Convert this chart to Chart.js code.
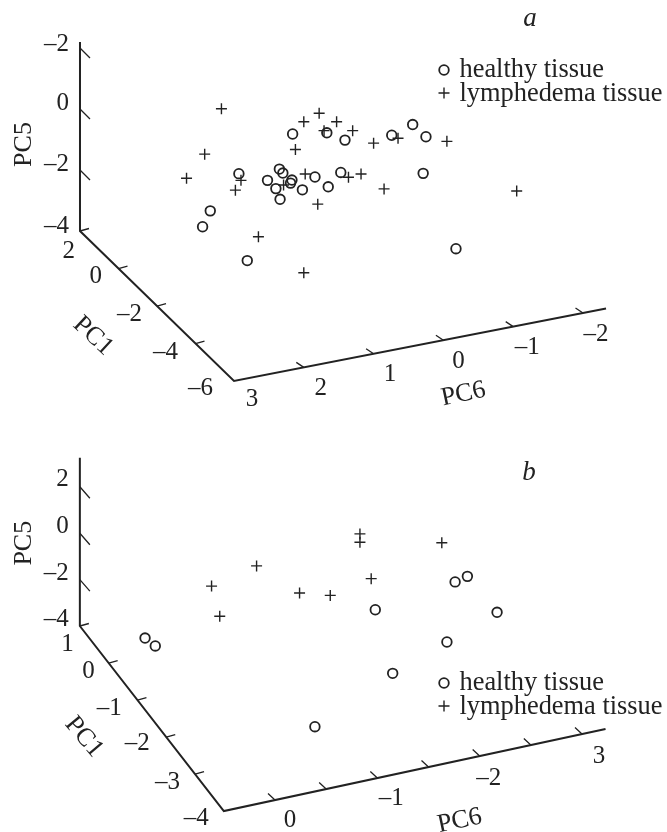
<!DOCTYPE html>
<html lang="en">
<head>
    <meta charset="UTF-8">
    <title>PC1, PC5, PC6 score plots</title>
    <script src="https://cdn.jsdelivr.net/npm/chart.js"></script>
    <style>
        html, body { margin: 0; padding: 0; background: #fff; }
        canvas { display: block; }
    </style>
</head>
<body>
    <canvas id="chart-a" width="667" height="416"></canvas>
    <canvas id="chart-b" width="667" height="416"></canvas>

    <script>
        // Panel a: each point read across to the PC5 axis and down to the PC6 axis
        var healthyPc6A = [2.16, 1.67, 1.41, 0.74, 0.44, 0.25, 0.29, 2.93, 2.52, 2.35, 2.30, 2.17, 2.19, 2.40, 2.34, 2.02, 1.84, 1.65, 1.47, 3.34, 3.45, 2.81, -0.18];
        var healthyPc5A = [-0.82, -0.78, -1.02, -0.86, -0.51, -0.91, -2.11, -2.12, -2.34, -1.97, -2.10, -2.33, -2.43, -2.61, -2.96, -2.65, -2.23, -2.55, -2.08, -3.34, -3.86, -4.97, -4.58];
        var lymphPc6A = [3.18, 3.42, 3.68, 2.90, 2.98, 2.65, 2.00, 2.00, 1.78, 1.53, 1.71, 1.30, 2.12, 1.00, 0.65, -0.05, 1.98, 2.29, 1.36, 1.18, 0.85, 1.80, -1.05];
        var lymphPc5A = [0.01, -1.48, -2.27, -2.34, -2.66, -4.19, -5.37, -0.42, -0.14, -0.42, -0.71, -0.71, -1.33, -1.12, -0.96, -1.06, -2.13, -2.49, -2.24, -2.13, -2.62, -3.12, -2.69];

        // Panel b
        var healthyPc6B = [-0.98, -1.76, -1.88, -2.17, -1.68, -1.15, -0.39, 1.27, 1.17];
        var healthyPc5B = [-3.30, -2.10, -1.86, -3.41, -4.69, -6.04, -8.34, -4.52, -4.86];
        var lymphPc6B = [-0.83, -0.83, -1.63, 0.18, 0.62, -0.24, -0.54, -0.94, 0.54];
        var lymphPc5B = [-0.03, -0.39, -0.41, -1.41, -2.28, -2.58, -2.68, -1.96, -3.58];

        // Axis ticks and what is printed at them (the printed text keeps the source's "–2" and "3")
        var pc5TicksA = [2, 0, -2, -4];
        var pc5LabelsA = ['–2', '0', '–2', '–4'];
        var pc1TicksA = [2, 0, -2, -4, -6];
        var pc1LabelsA = ['2', '0', '–2', '–4', '–6'];
        var pc6TicksA = [3, 2, 1, 0, -1, -2];
        var pc6LabelsA = ['3', '2', '1', '0', '–1', '–2'];

        var pc5TicksB = [2, 0, -2, -4];
        var pc5LabelsB = ['2', '0', '–2', '–4'];
        var pc1TicksB = [1, 0, -1, -2, -3, -4];
        var pc1LabelsB = ['1', '0', '–1', '–2', '–3', '–4'];
        var pc6TicksB = [0, -1, -2, -3];
        var pc6LabelsB = ['0', '–1', '–2', '3'];
        var pc6MinorB = [0, -0.5, -1, -1.5, -2, -2.5, -3];

        var INK = '#222';
        var SERIF = '"Liberation Serif", serif';
        var TEXT_DROP = 1.5; // textBaseline middle sits a bit high for digits

        // Layout of each panel: scale ranges, oblique projection of the 3D box, label nudges in px
        var panelA = {
            letter: 'a', letterPos: [530, 19],
            legendPos: [444, 70],
            xRange: [-3.2034, 6.3524], yRange: [-10.0656, 3.5738],
            xUnit: 69.8, yUnit: 30.5,
            corner: { pc6: 3, pc1: -6, pc5: -4 }, pc1Back: 2,
            pc1ShiftX: 0.2758, pc1ShiftY: 0.6148, pc6Tilt: -0.446,
            pc5Top: 2.2, pc6End: -2.33,
            pc5Ticks: pc5TicksA, pc5Labels: pc5LabelsA, pc5Marks: [2, 0, -2], pc5Vec: [10, 10],
            pc1Ticks: pc1TicksA, pc1Labels: pc1LabelsA, pc1Marks: [2, 0, -2, -4], pc1Vec: [9, -2.5],
            pc6Ticks: pc6TicksA, pc6Labels: pc6LabelsA, pc6Marks: [2, 1, 0, -1, -2], pc6Vec: [-7.5, -5],
            pc5Nudge: [[-11, -5], [-11, -7], [-11, -7], [-11, -6]],
            pc1Nudge: [[-5, 19], [-16.5, 6.5], [-15, 7], [-17.5, 7.5], [-21, 6]],
            pc6Nudge: [[18, 17], [17, 20], [16.5, 19], [15, 20], [14, 19], [13, 20]],
            pc5Title: { at: -1, nudge: [-56, 5] },
            pc1Title: { at: -2, nudge: [-64, 30], angle: 43 },
            pc6Title: { at: 0, nudge: [20, 54], angle: -12 },
            healthy: [healthyPc6A, healthyPc5A], lymph: [lymphPc6A, lymphPc5A]
        };

        var panelB = {
            letter: 'b', letterPos: [529, 57],
            legendPos: [444, 267],
            xRange: [-3.8307, 2.6874], yRange: [-12.8793, 5.0517],
            xUnit: 102.33, yUnit: 23.2,
            corner: { pc6: 0.5, pc1: -4, pc5: -4 }, pc1Back: 1,
            pc1ShiftX: 0.2814, pc1ShiftY: 1.595, pc6Tilt: -0.948,
            pc5Top: 3.25, pc6End: -3.23,
            pc5Ticks: pc5TicksB, pc5Labels: pc5LabelsB, pc5Marks: [2, 0, -2], pc5Vec: [10, 11.5],
            pc1Ticks: pc1TicksB, pc1Labels: pc1LabelsB, pc1Marks: [1, 0, -1, -2, -3], pc1Vec: [9, -2.5],
            pc6Ticks: pc6TicksB, pc6Labels: pc6LabelsB, pc6Marks: pc6MinorB, pc6Vec: [-7, -6.5],
            pc5Nudge: [[-11, -9], [-11, -8], [-11, -8], [-11, -8]],
            pc1Nudge: [[-6, 17], [-14, 7], [-15.6, 7], [-16.4, 5], [-15, 7], [-15, 6]],
            pc6Nudge: [[15, 19], [14, 19], [9, 21], [17, 21]],
            pc5Title: { at: 0, nudge: [-56, 10] },
            pc1Title: { at: -1, nudge: [-53.6, 37], angle: 50 },
            pc6Title: { at: -2, nudge: [-20, 65], angle: -12 },
            healthy: [healthyPc6B, healthyPc5B], lymph: [lymphPc6B, lymphPc5B]
        };

        // 3D box coordinates -> plane the two linear scales run on
        function project(p, pc6, pc1, pc5) {
            return {
                x: pc6 + (pc1 - p.corner.pc1) * p.pc1ShiftX,
                y: pc5 + (pc1 - p.pc1Back) * p.pc1ShiftY + (pc6 - p.corner.pc6) * p.pc6Tilt
            };
        }

        function zip(xs, ys) {
            return xs.map(function(x, i) { return { x: x, y: ys[i] }; });
        }

        // Short tick strokes, split by NaN gaps
        function tickSegments(p, anchors, vec) {
            var out = [];
            anchors.forEach(function(a) {
                out.push(a);
                out.push({ x: a.x - vec[0] / p.xUnit, y: a.y - vec[1] / p.yUnit });
                out.push({ x: NaN, y: NaN });
            });
            return out;
        }

        function pc5Point(p, v) { return project(p, p.corner.pc6, p.pc1Back, v); }
        function pc1Point(p, v) { return project(p, p.corner.pc6, v, p.corner.pc5); }
        function pc6Point(p, v) { return project(p, v, p.corner.pc1, p.corner.pc5); }

        // Draws tick labels, axis titles, panel letter and the legend
        var labelsPlugin = {
            id: 'panelLabels',
            afterDatasetsDraw: function(chart) {
                var p = chart.options.plugins.panelLabels.panel;
                var ctx = chart.ctx;
                var sx = chart.scales.x, sy = chart.scales.y;
                function px(pt) { return [sx.getPixelForValue(pt.x), sy.getPixelForValue(pt.y)]; }

                ctx.save();
                ctx.fillStyle = INK;
                ctx.strokeStyle = INK;
                ctx.textBaseline = 'middle';
                ctx.font = '25px ' + SERIF;

                ctx.textAlign = 'right';
                p.pc5Ticks.forEach(function(v, i) {
                    var a = px(pc5Point(p, v));
                    ctx.fillText(p.pc5Labels[i], a[0] + p.pc5Nudge[i][0], a[1] + p.pc5Nudge[i][1] + TEXT_DROP);
                });
                p.pc1Ticks.forEach(function(v, i) {
                    var a = px(pc1Point(p, v));
                    ctx.fillText(p.pc1Labels[i], a[0] + p.pc1Nudge[i][0], a[1] + p.pc1Nudge[i][1] + TEXT_DROP);
                });
                ctx.textAlign = 'center';
                p.pc6Ticks.forEach(function(v, i) {
                    var a = px(pc6Point(p, v));
                    ctx.fillText(p.pc6Labels[i], a[0] + p.pc6Nudge[i][0], a[1] + p.pc6Nudge[i][1] + TEXT_DROP);
                });

                function title(text, anchor, nudge, angle) {
                    ctx.save();
                    ctx.translate(anchor[0] + nudge[0], anchor[1] + nudge[1]);
                    ctx.rotate(angle * Math.PI / 180);
                    ctx.font = '26px ' + SERIF;
                    ctx.fillText(text, 0, 0);
                    ctx.restore();
                }
                title('PC5', px(pc5Point(p, p.pc5Title.at)), p.pc5Title.nudge, -90);
                title('PC1', px(pc1Point(p, p.pc1Title.at)), p.pc1Title.nudge, p.pc1Title.angle);
                title('PC6', px(pc6Point(p, p.pc6Title.at)), p.pc6Title.nudge, p.pc6Title.angle);

                ctx.font = 'italic 27px ' + SERIF;
                ctx.fillText(p.letter, p.letterPos[0], p.letterPos[1]);

                // Legend
                var lx = p.legendPos[0], ly = p.legendPos[1];
                ctx.lineWidth = 1.8;
                ctx.beginPath();
                ctx.arc(lx, ly, 4.8, 0, Math.PI * 2);
                ctx.stroke();
                ctx.lineWidth = 1.4;
                ctx.beginPath();
                ctx.moveTo(lx - 5.5, ly + 23);
                ctx.lineTo(lx + 5.5, ly + 23);
                ctx.moveTo(lx, ly + 17.5);
                ctx.lineTo(lx, ly + 28.5);
                ctx.stroke();
                ctx.font = '26.4px ' + SERIF;
                ctx.textAlign = 'left';
                ctx.textBaseline = 'alphabetic';
                ctx.fillText('healthy tissue', lx + 15.5, ly + 7);
                ctx.fillText('lymphedema tissue', lx + 15.5, ly + 31);
                ctx.restore();
            }
        };

        function drawPanel(canvasId, p) {
            var ctx = document.getElementById(canvasId).getContext('2d');
            var axisPath = [
                pc5Point(p, p.pc5Top),
                pc5Point(p, p.corner.pc5),
                pc1Point(p, p.corner.pc1),
                pc6Point(p, p.pc6End)
            ];
            var ticks = tickSegments(p, p.pc5Marks.map(function(v) { return pc5Point(p, v); }), p.pc5Vec)
                .concat(tickSegments(p, p.pc1Marks.map(function(v) { return pc1Point(p, v); }), p.pc1Vec))
                .concat(tickSegments(p, p.pc6Marks.map(function(v) { return pc6Point(p, v); }), p.pc6Vec));

            return new Chart(ctx, {
                type: 'scatter',
                data: {
                    datasets: [
                        { label: 'axes', data: axisPath, showLine: true, borderColor: INK, borderWidth: 2, pointRadius: 0, borderJoinStyle: 'miter' },
                        { label: 'ticks', data: ticks, showLine: true, spanGaps: false, borderColor: INK, borderWidth: 1.3, pointRadius: 0 },
                        { label: 'healthy tissue', data: zip(p.healthy[0], p.healthy[1]), pointStyle: 'circle', pointRadius: 4.8, pointBorderWidth: 1.8, pointBorderColor: INK, pointBackgroundColor: 'transparent' },
                        { label: 'lymphedema tissue', data: zip(p.lymph[0], p.lymph[1]), pointStyle: 'cross', pointRadius: 5.5, pointBorderWidth: 1.4, pointBorderColor: INK }
                    ]
                },
                options: {
                    responsive: false,
                    animation: false,
                    events: [],
                    // autoPadding would pull the plot in for the point radius and shift the axes
                    layout: { padding: 0, autoPadding: false },
                    scales: {
                        x: { type: 'linear', reverse: true, display: false, min: p.xRange[0], max: p.xRange[1] },
                        y: { type: 'linear', display: false, min: p.yRange[0], max: p.yRange[1] }
                    },
                    plugins: {
                        legend: { display: false },
                        tooltip: { enabled: false },
                        panelLabels: { panel: p }
                    }
                },
                plugins: [labelsPlugin]
            });
        }

        drawPanel('chart-a', panelA);
        drawPanel('chart-b', panelB);
    </script>
</body>
</html>
